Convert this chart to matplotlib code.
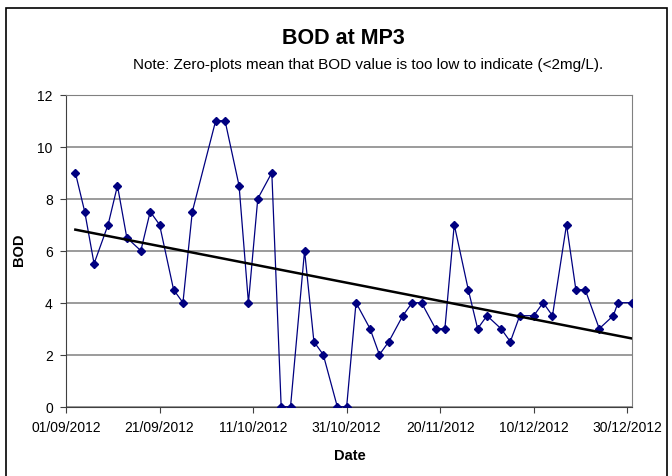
import numpy as np
import pandas as pd
import matplotlib
matplotlib.use('Agg')
import matplotlib.pyplot as plt
import matplotlib.dates as mdates
from matplotlib.patches import Rectangle

plt.rcParams['font.family'] = ['Liberation Sans', 'DejaVu Sans']

# sampling dates and BOD values (mg/L), zero = below detection
dates = ['03/09/2012', '05/09/2012', '07/09/2012', '10/09/2012', '12/09/2012',
         '14/09/2012', '17/09/2012', '19/09/2012', '21/09/2012', '24/09/2012',
         '26/09/2012', '28/09/2012', '03/10/2012', '05/10/2012', '08/10/2012',
         '10/10/2012', '12/10/2012', '15/10/2012', '17/10/2012', '19/10/2012',
         '22/10/2012', '24/10/2012', '26/10/2012', '29/10/2012', '31/10/2012',
         '02/11/2012', '05/11/2012', '07/11/2012', '09/11/2012', '12/11/2012',
         '14/11/2012', '16/11/2012', '19/11/2012', '21/11/2012', '23/11/2012',
         '26/11/2012', '28/11/2012', '30/11/2012', '03/12/2012', '05/12/2012',
         '07/12/2012', '10/12/2012', '12/12/2012', '14/12/2012', '17/12/2012',
         '19/12/2012', '21/12/2012', '24/12/2012', '27/12/2012', '28/12/2012',
         '31/12/2012']
bod = [9, 7.5, 5.5, 7, 8.5,
       6.5, 6, 7.5, 7, 4.5,
       4, 7.5, 11, 11, 8.5,
       4, 8, 9, 0, 0,
       6, 2.5, 2, 0, 0,
       4, 3, 2, 2.5, 3.5,
       4, 4, 3, 3, 7,
       4.5, 3, 3.5, 3, 2.5,
       3.5, 3.5, 4, 3.5, 7,
       4.5, 4.5, 3, 3.5, 4,
       4]
tick_dates = ['01/09/2012', '21/09/2012', '11/10/2012', '31/10/2012',
              '20/11/2012', '10/12/2012', '30/12/2012']

d = pd.to_datetime(dates, format='%d/%m/%Y')
x = mdates.date2num(d)
y = np.array(bod, dtype=float)
ticks = mdates.date2num(pd.to_datetime(tick_dates, format='%d/%m/%Y'))

fig = plt.figure(figsize=(6.72, 4.77), dpi=100)
ax = fig.add_axes([66/672, 1 - 407.7/477, (632-66)/672, (407.7-95.7)/477])

# outer chart frame
fig.patches.append(Rectangle((6/672, -0.1), (667-6)/672, 1.1 - 9/477,
                             transform=fig.transFigure, fill=False,
                             edgecolor='black', linewidth=1.2))

ax.grid(axis='y', color='#808080', linewidth=1.1)
ax.set_axisbelow(True)

ax.plot(x, y, color='#000080', linewidth=0.9, marker='D', markersize=4,
        markerfacecolor='#000080', markeredgecolor='#000080', zorder=3)

# linear trend
k, b = np.polyfit(x, y, 1)
ax.plot([x[0], x[-1]], [k*x[0] + b, k*x[-1] + b], color='black', linewidth=1.8, zorder=4)

ax.set_xlim(mdates.date2num(pd.Timestamp('2012-09-01')), mdates.date2num(pd.Timestamp('2012-12-31')))
ax.set_ylim(0, 12)
ax.set_xticks(ticks)
ax.set_xticklabels(tick_dates)
ax.set_yticks(range(0, 13, 2))
ax.tick_params(labelsize=10, direction='out', length=4.5, color='#404040')
ax.tick_params(axis='x', pad=5)
ax.tick_params(axis='y', pad=5)

for side in ['top', 'right']:
    ax.spines[side].set_color('#808080')
ax.spines['left'].set_color('#404040')
ax.spines['bottom'].set_color('#404040')

ax.set_xlabel('Date', fontsize=10.5, fontweight='bold', va='center')
ax.xaxis.set_label_coords((350 - 66)/566, (407.7 - 456)/312)
ax.set_ylabel('BOD', fontsize=10.5, fontweight='bold', va='center')
ax.yaxis.set_label_coords((19 - 66)/566, (407.7 - 250)/312)

fig.text(343/672, 1 - 38/477, 'BOD at MP3', ha='center', va='center',
         fontsize=15.5, fontweight='bold')
fig.text(368/672, 1 - 65/477,
         'Note: Zero-plots mean that BOD value is too low to indicate (<2mg/L).',
         ha='center', va='center', fontsize=11)

fig.savefig('out.png', dpi=100)
